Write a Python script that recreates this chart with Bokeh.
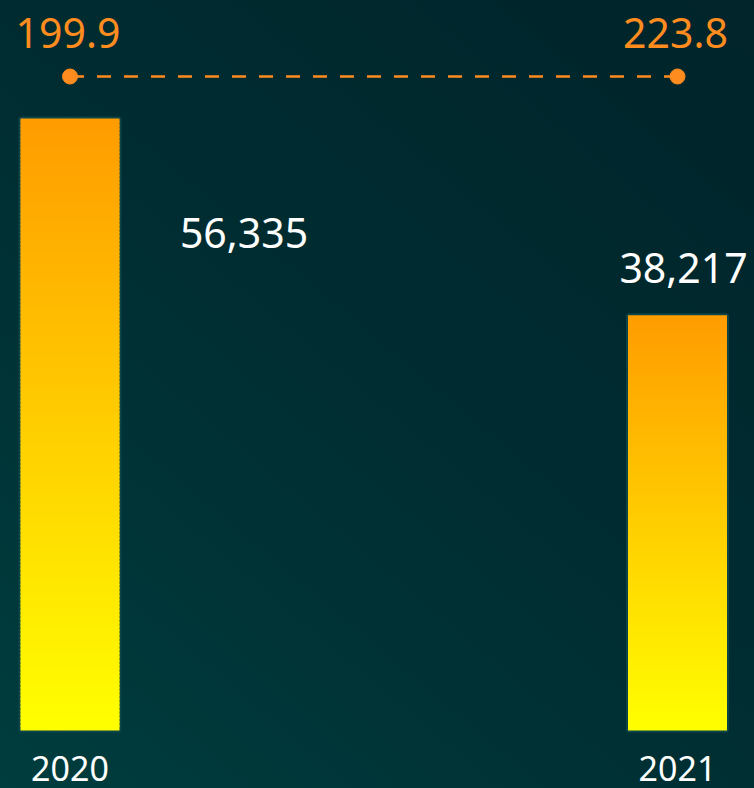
import numpy as np
from bokeh.plotting import figure
from bokeh.models import ColumnDataSource, Range1d
from bokeh.core.properties import value
from bokeh.embed import file_html
from bokeh.resources import INLINE

# ---- data ----
years = ["2020", "2021"]
bar_values = [56335, 38217]
bar_labels = ["56,335", "38,217"]
line_values = [199.9, 223.8]
line_labels = ["199.9", "223.8"]

# ---- layout (screen pixels) ----
W, H = 754, 788
BASE_PX = 730          # pixel row of y = 0
TOP_PX = 118           # pixel row of the tallest bar top
LINE_PX = 76           # pixel row of the line series
X0_PX, X1_PX = 69.5, 677.0
BAR_PX = 99
FONT = "Noto Sans"
ORANGE = "#ff8c1f"

k = max(bar_values) / (BASE_PX - TOP_PX)        # data units per pixel (y)
step = X1_PX - X0_PX                             # pixels per category (x)
xs = list(range(len(years)))
x_start = -X0_PX / step
x_end = x_start + W / step
bar_w = BAR_PX / step
line_level = (BASE_PX - LINE_PX) * k

p = figure(width=W, height=H, output_backend="svg", toolbar_location=None,
           x_range=Range1d(x_start, x_end),
           y_range=Range1d(-(H - BASE_PX) * k, BASE_PX * k),
           min_border=0, min_border_left=0, min_border_right=0,
           min_border_top=0, min_border_bottom=0)
p.axis.visible = False
p.grid.visible = False
p.outline_line_color = None
p.background_fill_alpha = 0
p.border_fill_alpha = 0
p.styles = {"background": "linear-gradient(40deg, #003d3e 0%, #002d31 50%, #00242a 100%)"}

# bar outline (behind)
p.vbar(x=xs, top=bar_values, bottom=0, width=bar_w, fill_color=None,
       line_color="#0c4448", line_width=4)

# gradient bars as stacked slices (each slice overlaps the next by ~1px)
N = 160
top_rgb = np.array([255, 156, 0])
bot_rgb = np.array([255, 255, 0])
sx, sb, st, sc = [], [], [], []
for i, v in enumerate(bar_values):
    for j in range(N):
        t = (j + 0.5) / N
        c = (bot_rgb * (1 - t) + top_rgb * t).round().astype(int)
        sx.append(xs[i])
        sb.append(v * j / N)
        st.append(min(v, v * (j + 1) / N + 1.5 * k))
        sc.append("#%02x%02x%02x" % tuple(c))
p.vbar(x=sx, bottom=sb, top=st, width=bar_w, fill_color=sc, line_color=None)

# bar value labels
lab_dx = [174, 6]       # pixel offsets
lab_dy = [114, -47]
p.text(x=xs, y=bar_values, text=bar_labels, x_offset=lab_dx, y_offset=lab_dy,
       text_align="center", text_baseline="alphabetic", text_color="white",
       text_font=value(FONT), text_font_size="41px")

# year labels
p.text(x=xs, y=[0] * len(xs), text=years, y_offset=38, text_align="center",
       text_baseline="alphabetic", text_color="white", text_font=value(FONT),
       text_font_size="34px")

# line series (drawn on a flat level)
ly = [line_level] * len(line_values)
p.line(x=xs, y=ly, line_color=ORANGE, line_width=2.5, line_dash="14 13")
p.scatter(x=xs, y=ly, size=15, fill_color=ORANGE, line_color=ORANGE)
p.text(x=xs, y=ly, text=line_labels, y_offset=-44, x_offset=-2,
       text_align="center", text_baseline="alphabetic", text_color=ORANGE,
       text_font=value(FONT), text_font_size="41px")

html = file_html(p, INLINE)
html = html.replace("<head>", "<head><style>html,body{margin:0;padding:0;overflow:hidden;background:#002c30;}</style>", 1)
open("out.html", "w").write(html)
